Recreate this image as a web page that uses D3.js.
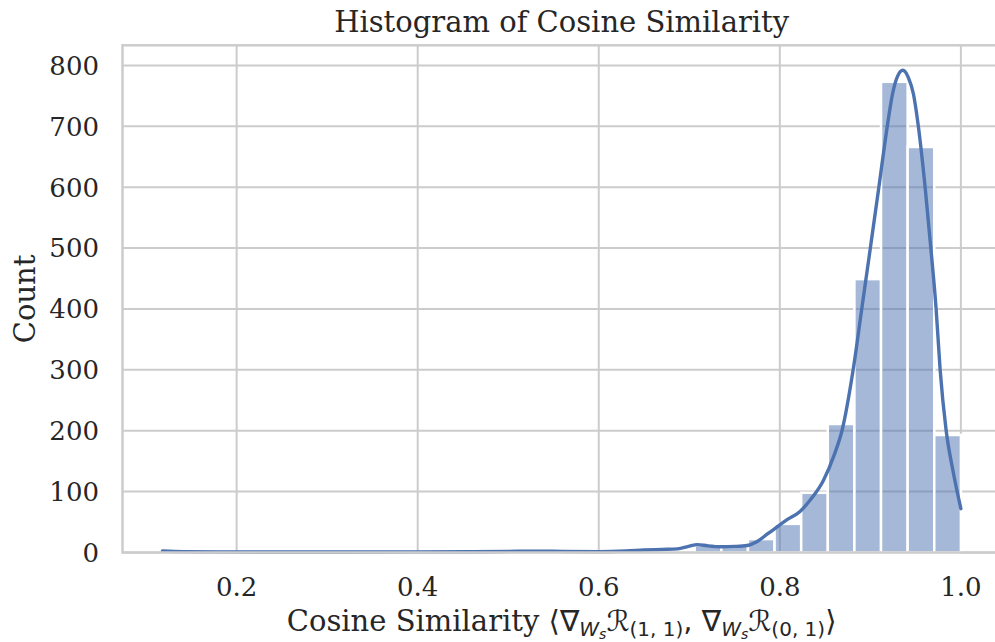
<!DOCTYPE html>
<html>
<head>
<meta charset="utf-8">
<script src="https://cdn.jsdelivr.net/npm/d3@7"></script>
<style>
  body { margin: 0; background: #fff; }
  svg text { fill: #262626; }
</style>
</head>
<body>
<div id="chart-area"></div>
<script>
// histogram bins (edges) and counts
const binEdges = [0.1180, 0.1474, 0.1768, 0.2062, 0.2356, 0.2650, 0.2944, 0.3238, 0.3532, 0.3826,
  0.4120, 0.4414, 0.4708, 0.5002, 0.5296, 0.5590, 0.5884, 0.6178, 0.6472, 0.6766,
  0.7060, 0.7354, 0.7648, 0.7942, 0.8236, 0.8530, 0.8824, 0.9118, 0.9412, 0.9706, 1.0000];
const binCounts = [1, 0, 0, 0, 0, 0, 0, 0, 0, 0, 0, 0, 0, 1, 1, 0, 0, 1, 2, 3,
  12, 11, 22, 47, 98, 211, 449, 773, 666, 193];

// kde curve (in count units)
const kdeX = [0.118, 0.14, 0.18, 0.25, 0.32, 0.4, 0.46, 0.5, 0.53, 0.56, 0.6, 0.63, 0.65, 0.67,
  0.687, 0.699, 0.709, 0.72, 0.735, 0.75, 0.764, 0.775, 0.786, 0.797, 0.808, 0.822, 0.834,
  0.848, 0.86, 0.869, 0.881, 0.8906, 0.9, 0.9094, 0.9186, 0.9245, 0.93, 0.9359, 0.942,
  0.9476, 0.9531, 0.9605, 0.9668, 0.9726, 0.9771, 0.9836, 0.9917, 1.0];
const kdeY = [2.5, 1.5, 1, 0.8, 0.8, 1, 1.2, 1.8, 2.3, 1.8, 1.5, 2.5, 4, 5,
  6, 10, 13, 11, 9.5, 10, 11.5, 18, 30, 42, 54, 67, 87,
  118, 160, 202, 300, 401, 500, 600, 699, 753, 782, 792, 780,
  753, 699, 600, 500, 401, 300, 202, 131, 72];

const xTicks = [0.2, 0.4, 0.6, 0.8, 1.0];
const yTicks = [0, 100, 200, 300, 400, 500, 600, 700, 800];

const W = 995, H = 642;
const PLOT = { LEFT: 122.5, RIGHT: 1000.8, TOP: 45.3, BOTTOM: 552.5 };
const BLUE = "#4c72b0";
const GRID = "#cccccc";
const SERIF = "'DejaVu Serif', serif";
const SANS = "'DejaVu Sans', sans-serif";

const svg = d3.select("#chart-area").append("svg")
  .attr("width", W)
  .attr("height", H)

const x = d3.scaleLinear()
  .domain([0.0739, 1.0441])
  .range([PLOT.LEFT, PLOT.RIGHT])

const y = d3.scaleLinear()
  .domain([0, 833])
  .range([PLOT.BOTTOM, PLOT.TOP])

// grid
svg.append("g").selectAll("line.vg")
  .data(xTicks)
  .join("line")
  .attr("x1", d => x(d)).attr("x2", d => x(d))
  .attr("y1", PLOT.TOP).attr("y2", PLOT.BOTTOM)
  .attr("stroke", GRID).attr("stroke-width", 2)

svg.append("g").selectAll("line.hg")
  .data(yTicks)
  .join("line")
  .attr("x1", PLOT.LEFT).attr("x2", PLOT.RIGHT)
  .attr("y1", d => y(d)).attr("y2", d => y(d))
  .attr("stroke", GRID).attr("stroke-width", 2)

// bars
const bins = binCounts.map((c, i) => ({ x0: binEdges[i], x1: binEdges[i + 1], count: c }))
  .filter(d => d.count > 0);

svg.append("g").selectAll("rect")
  .data(bins)
  .join("rect")
  .attr("x", d => x(d.x0))
  .attr("width", d => x(d.x1) - x(d.x0))
  .attr("y", d => y(d.count))
  .attr("height", d => y(0) - y(d.count))
  .attr("fill", BLUE)
  .attr("fill-opacity", 0.5)
  .attr("stroke", "#fff")
  .attr("stroke-width", 2.5)

// kde line
const line = d3.line()
  .x(d => x(d[0]))
  .y(d => y(d[1]))
  .curve(d3.curveMonotoneX)

svg.append("path")
  .datum(kdeX.map((v, i) => [v, kdeY[i]]))
  .attr("d", line)
  .attr("fill", "none")
  .attr("stroke", BLUE)
  .attr("stroke-width", 3.4)
  .attr("stroke-linecap", "round")

// spines
svg.append("rect")
  .attr("x", PLOT.LEFT).attr("y", PLOT.TOP)
  .attr("width", PLOT.RIGHT - PLOT.LEFT).attr("height", PLOT.BOTTOM - PLOT.TOP)
  .attr("fill", "none").attr("stroke", GRID).attr("stroke-width", 2.5)

// tick labels
svg.append("g").selectAll("text")
  .data(xTicks)
  .join("text")
  .attr("x", d => x(d))
  .attr("y", 596)
  .attr("text-anchor", "middle")
  .style("font-family", SERIF)
  .style("font-size", "26px")
  .text(d3.format(".1f"))

svg.append("g").selectAll("text")
  .data(yTicks)
  .join("text")
  .attr("x", 99)
  .attr("y", d => y(d))
  .attr("dy", "0.36em")
  .attr("text-anchor", "end")
  .style("font-family", SERIF)
  .style("font-size", "26px")
  .text(d => d)

// title
svg.append("text")
  .attr("x", (PLOT.LEFT + PLOT.RIGHT) / 2)
  .attr("y", 32)
  .attr("text-anchor", "middle")
  .style("font-family", SERIF)
  .style("font-size", "29px")
  .text("Histogram of Cosine Similarity")

// y label
svg.append("text")
  .attr("transform", `translate(35, ${(PLOT.TOP + PLOT.BOTTOM) / 2}) rotate(-90)`)
  .attr("text-anchor", "middle")
  .style("font-family", SERIF)
  .style("font-size", "29px")
  .text("Count")

// x label with math
const xl = svg.append("text")
  .attr("x", (PLOT.LEFT + PLOT.RIGHT) / 2)
  .attr("y", 631)
  .attr("text-anchor", "middle")
  .style("font-family", SERIF)
  .style("font-size", "29px")

xl.append("tspan").text("Cosine Similarity ")
const mathPart = (sub) => {
  xl.append("tspan").style("font-family", SANS).text("∇")
  xl.append("tspan").style("font-family", SANS).style("font-style", "italic")
    .style("font-size", "20px").attr("dy", 5).text("W")
  xl.append("tspan").style("font-family", SANS).style("font-style", "italic")
    .style("font-size", "14px").attr("dy", 3).text("s")
  xl.append("tspan").style("font-family", SANS).style("font-style", "italic")
    .attr("dy", -8).text("ℛ")
  xl.append("tspan").style("font-family", SANS)
    .style("font-size", "20px").attr("dy", 5).text(sub)
}
xl.append("tspan").style("font-family", SANS).text("⟨")
mathPart("(1, 1)")
xl.append("tspan").style("font-family", SANS).attr("dy", -5).text(", ")
mathPart("(0, 1)")
xl.append("tspan").style("font-family", SANS).attr("dy", -5).text("⟩")
</script>
</body>
</html>
